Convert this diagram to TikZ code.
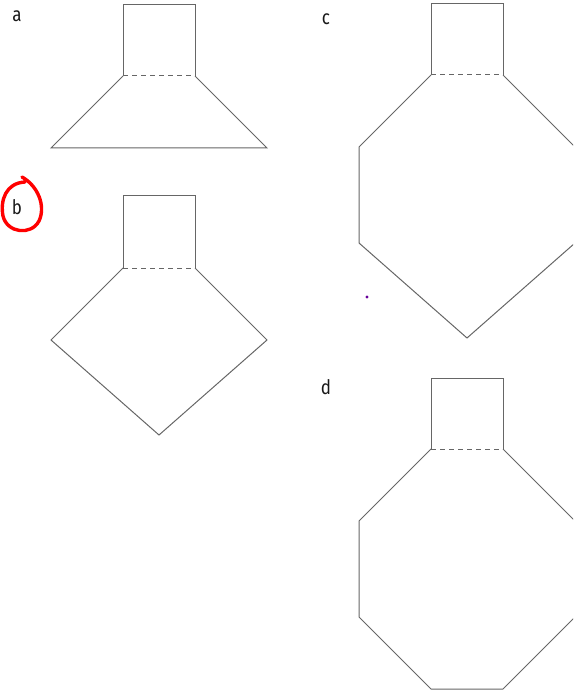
\documentclass[tikz,border=0pt]{standalone}
\usepackage{fontspec}
\setmainfont{Fira Sans}
\usepackage{tikz}

\begin{document}
\begin{tikzpicture}[x=1pt,y=-1pt,
	outline/.style={draw=black!60,line width=1pt,line join=miter},
	seam/.style={draw=black!60,line width=1pt,dash pattern=on 5pt off 4pt},
	letter/.style={font=\fontsize{20}{20}\selectfont,text=black!90,inner sep=0pt,xscale=0.85}]
	
	\useasboundingbox (0,0) rectangle (573,692);
	\clip (0,0) rectangle (573,692);
	
	% labels
	\node[letter] (la) at (17,16) {a};
	\node[letter] (lb) at (17,207) {b};
	\node[letter] (lc) at (326,19) {c};
	\node[letter] (ld) at (326,387) {d};
	
	% a
	\draw[outline] (123,76) -- (123,5) -- (195,5) -- (195,76);
	\draw[seam] (123,76) -- (195,76);
	\draw[outline] (123,76) -- (51,148) -- (267,148) -- (195,76);
	
	% b
	\draw[outline] (123,268) -- (123,196) -- (195,196) -- (195,268);
	\draw[seam] (123,268) -- (195,268);
	\draw[outline] (123,268) -- (51,340) -- (159,435) -- (267,340) -- (195,268);
	
	% c
	\draw[outline] (431,75) -- (431,4) -- (503,4) -- (503,75);
	\draw[seam] (431,75) -- (503,75);
	\draw[outline] (431,75) -- (359,147) -- (359,243) -- (467,338) -- (575,243) -- (575,147) -- (503,75);
	
	% d
	\draw[outline] (431,449) -- (431,378) -- (503,378) -- (503,449);
	\draw[seam] (431,449) -- (503,449);
	\draw[outline] (431,449) -- (359,521) -- (359,617) -- (431,689) -- (503,689) -- (575,617) -- (575,521) -- (503,449);
	
	% mark round b
	\draw[red,line width=3.4pt,line cap=round]
		(25,182) .. controls (6,183) and (0,200) .. (3,216)
		.. controls (7,233) and (31,236) .. (39,221)
		.. controls (46,206) and (38,186) .. (22,177);
	\fill[violet!80!blue] (367,297) circle (1.6);
\end{tikzpicture}
\end{document}
